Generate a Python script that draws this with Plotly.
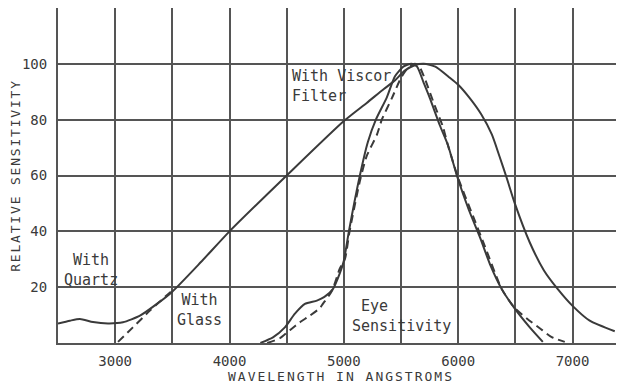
import plotly.graph_objects as go

# ---- data ----
quartz_x = [2500, 2605, 2692, 2806, 2937, 3068, 3217, 3365, 3497, 3750, 4000, 4500, 5000,
            5200, 5350, 5446, 5530, 5620, 5700, 5800, 5927, 6000, 6101, 6200, 6294, 6360,
            6425, 6495, 6626, 6750, 6871, 7000, 7150, 7369]
quartz_y = [7.0, 8.0, 8.6, 7.5, 7.0, 7.4, 9.8, 14.0, 18.3, 29.0, 40.0, 60.0, 79.5,
            86.0, 91.0, 94.0, 97.5, 99.5, 100.0, 99.0, 95.0, 92.5, 87.7, 82.0, 74.7, 67.0,
            59.0, 50.0, 36.0, 26.0, 19.3, 13.3, 8.0, 4.2]

glass_x = [3025, 3155, 3304, 3462, 3510]
glass_y = [0.4, 5.6, 11.6, 17.5, 19.2]

viscor_x = [4270, 4380, 4484, 4572, 4659, 4764, 4830, 4904, 4965, 5000, 5044, 5140, 5210,
            5280, 5376, 5446, 5520, 5590, 5640, 5700, 5752, 5839, 5909, 5996, 6090, 6189,
            6280, 6381, 6495, 6626, 6740]
viscor_y = [0.0, 2.0, 5.6, 10.5, 14.0, 15.2, 16.5, 19.3, 25.0, 29.5, 40.0, 60.0, 72.0,
            80.0, 88.0, 95.5, 99.0, 100.0, 99.0, 93.0, 87.7, 78.0, 71.0, 59.0, 48.0, 38.0,
            28.0, 19.3, 12.3, 5.6, 0.4]

eye_x = [4330, 4440, 4528, 4615, 4703, 4790, 4816, 4895, 4965, 5009, 5050, 5140, 5200,
         5290, 5332, 5420, 5500, 5560, 5620, 5660, 5708, 5795, 5866, 5909, 5996, 6128,
         6230, 6381, 6495, 6600, 6713, 6818, 6932]
eye_y = [0.0, 1.7, 4.6, 7.4, 9.8, 12.5, 14.0, 18.6, 26.7, 30.0, 40.0, 58.0, 67.0,
         74.7, 80.0, 87.7, 95.0, 98.5, 100.0, 99.0, 94.7, 85.0, 77.5, 71.0, 59.5, 45.6,
         35.0, 19.3, 12.5, 8.8, 5.3, 2.1, 0.4]

x_tickvals = [2500, 3000, 3500, 4000, 4500, 5000, 5500, 6000, 6500, 7000]
x_ticktext = ["", "3000", "", "4000", "", "5000", "", "6000", "", "7000"]
y_tickvals = [0, 20, 40, 60, 80, 100, 120]
y_ticktext = ["", "20", "40", "60", "80", "100", ""]

INK = "#3a3a3a"
GRID = "#555555"
FONT = "DejaVu Sans Mono"

fig = go.Figure()
line_solid = dict(color=INK, width=2, shape="spline", smoothing=0.6)
line_dash = dict(color=INK, width=2, shape="spline", smoothing=0.6, dash="8px,5px")

fig.add_trace(go.Scatter(x=quartz_x, y=quartz_y, mode="lines", line=line_solid,
                         name="With Quartz", showlegend=False, hoverinfo="skip"))
fig.add_trace(go.Scatter(x=glass_x, y=glass_y, mode="lines", line=line_dash,
                         name="With Glass", showlegend=False, hoverinfo="skip"))
fig.add_trace(go.Scatter(x=viscor_x, y=viscor_y, mode="lines", line=line_solid,
                         name="With Viscor Filter", showlegend=False, hoverinfo="skip"))
fig.add_trace(go.Scatter(x=eye_x, y=eye_y, mode="lines", line=line_dash,
                         name="Eye Sensitivity", showlegend=False, hoverinfo="skip"))

ann_font = dict(family=FONT, size=15, color=INK)
fig.add_annotation(x=2788, y=26.3, xref="x", yref="y", text="With<br>Quartz",
                   showarrow=False, align="center", font=ann_font)
fig.add_annotation(x=3741, y=11.8, xref="x", yref="y", text="With<br>Glass",
                   showarrow=False, align="center", font=ann_font)
fig.add_annotation(x=4530, y=92, xref="x", yref="y", text="With Viscor<br>Filter",
                   showarrow=False, align="left", xanchor="left", font=ann_font)
fig.add_annotation(x=5054, y=9.8, xref="x", yref="y", text="\u00a0Eye<br>Sensitivity",
                   showarrow=False, align="left", xanchor="left", font=ann_font)

x_title = '<span style="letter-spacing:2px">WAVELENGTH IN ANGSTROMS</span>'
y_title = '<span style="letter-spacing:1.8px">RELATIVE SENSITIVITY</span>'

# the page body has an 8px default margin, so the figure is sized to fit inside it
fig.update_layout(
    width=616, height=376,
    margin=dict(l=50, r=0, t=0, b=41, autoexpand=False),
    paper_bgcolor="white", plot_bgcolor="white",
    font=dict(family=FONT, size=14, color=INK),
    xaxis=dict(range=[2500, 7450], tickmode="array", tickvals=x_tickvals, ticktext=x_ticktext,
               showgrid=True, gridcolor=GRID, gridwidth=2, zeroline=False,
               showline=True, linecolor=GRID, linewidth=2, mirror=True,
               ticks="", ticklabelstandoff=4,
               tickfont=dict(family=FONT, size=14, color=INK),
               title=dict(text=x_title, standoff=0,
                          font=dict(family=FONT, size=13, color=INK))),
    yaxis=dict(range=[0, 120], tickmode="array", tickvals=y_tickvals, ticktext=y_ticktext,
               showgrid=True, gridcolor=GRID, gridwidth=2, zeroline=False,
               showline=True, linecolor=GRID, linewidth=2,
               ticks="", ticklabelstandoff=6,
               tickfont=dict(family=FONT, size=14, color=INK),
               title=dict(text=y_title, standoff=2,
                          font=dict(family=FONT, size=13, color=INK))),
)

fig.write_html("out.html")
